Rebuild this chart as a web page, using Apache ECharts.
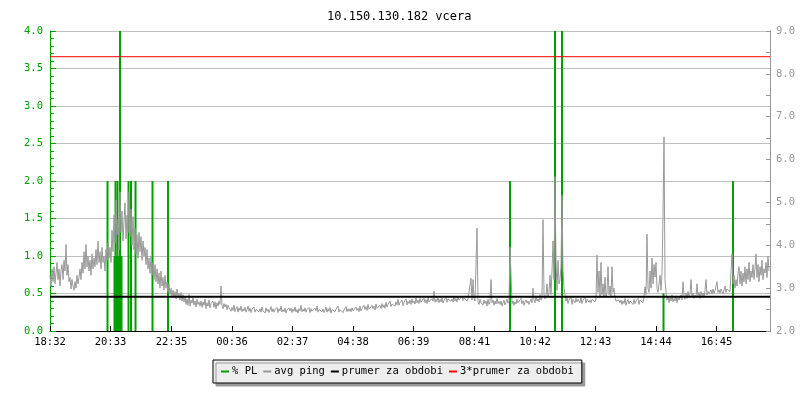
<!DOCTYPE html>
<html>
<head>
<meta charset="utf-8">
<script src="https://cdn.jsdelivr.net/npm/echarts@6/dist/echarts.min.js"></script>
<style>
  html, body { margin: 0; padding: 0; background: #fff; }
  #chart { width: 800px; height: 400px; }
</style>
</head>
<body>
<div id="chart"></div>
<script>
const chartTitle = '10.150.130.182 vcera';
const seriesNames = ['% PL', 'avg ping', 'prumer za obdobi', '3*prumer za obdobi'];

// time axis: minutes since the first label, 24 h wide
const startLabel = '18:32';
const spanMinutes = 1440;
const timeLabels = ['18:32', '20:33', '22:35', '00:36', '02:37', '04:38',
  '06:39', '08:41', '10:42', '12:43', '14:44', '16:45'];

// avg ping, one sample every 2 minutes (right axis), one row = 30 min
const pingStep = 2;
const pingValues = [
  3.30, 3.05, 3.45, 3.15, 3.50, 3.10, 3.35, 3.60, 3.20, 3.45, 3.05, 3.40, 3.55, 3.20, 3.65,
  3.40, 4.02, 3.30, 3.55, 3.15, 3.25, 2.98, 3.20, 3.05, 2.95, 3.15, 3.00, 3.30, 3.10, 3.25,
  3.45, 3.20, 3.60, 3.35, 3.85, 3.45, 4.02, 3.50, 3.75, 3.40, 3.65, 3.30, 3.80, 3.45, 3.70,
  3.50, 3.90, 3.55, 4.10, 3.60, 3.85, 3.45, 3.95, 3.60, 3.75, 3.40, 3.90, 3.65, 4.05, 3.70,
  3.95, 3.60, 4.35, 3.85, 4.70, 4.05, 5.06, 4.25, 4.60, 3.90, 5.25, 4.30, 4.80, 4.10, 4.55,
  4.99, 4.15, 4.70, 4.30, 5.25, 4.20, 4.85, 4.00, 4.67, 3.90, 4.40, 3.80, 4.25, 3.70, 4.30,
  3.85, 4.20, 3.65, 4.10, 3.75, 3.95, 3.55, 3.90, 3.45, 3.70, 3.35, 3.75, 3.30, 3.60, 3.20,
  3.55, 3.15, 3.45, 3.10, 3.35, 3.00, 3.40, 3.05, 3.25, 2.95, 3.30, 3.00, 3.15, 2.90, 3.10,
  2.85, 3.00, 2.80, 2.95, 2.78, 2.92, 2.75, 2.98, 2.80, 2.88, 2.72, 2.90, 2.70, 2.85, 2.68,
  2.80, 2.62, 2.75, 2.60, 2.85, 2.58, 2.72, 2.65, 2.78, 2.60, 2.70, 2.56, 2.74, 2.62, 2.68,
  2.58, 2.70, 2.55, 2.68, 2.60, 2.75, 2.52, 2.66, 2.58, 2.72, 2.54, 2.64, 2.60, 2.70, 2.55,
  2.68, 2.52, 2.66, 2.58, 2.70, 2.62, 3.05, 2.60, 2.52, 2.64, 2.56, 2.62, 2.50, 2.60, 2.54,
  2.58, 2.46, 2.55, 2.48, 2.60, 2.45, 2.52, 2.57, 2.44, 2.54, 2.48, 2.58, 2.45, 2.52, 2.47,
  2.55, 2.44, 2.50, 2.58, 2.46, 2.53, 2.43, 2.51, 2.47, 2.56, 2.44, 2.50, 2.48, 2.54, 2.45,
  2.52, 2.44, 2.56, 2.47, 2.50, 2.42, 2.54, 2.46, 2.51, 2.43, 2.49, 2.57, 2.45, 2.52, 2.44,
  2.50, 2.46, 2.55, 2.43, 2.52, 2.47, 2.58, 2.44, 2.50, 2.45, 2.53, 2.42, 2.49, 2.46, 2.54,
  2.47, 2.53, 2.43, 2.51, 2.46, 2.56, 2.44, 2.50, 2.42, 2.52, 2.47, 2.60, 2.45, 2.51, 2.46,
  2.54, 2.44, 2.50, 2.47, 2.55, 2.43, 2.52, 2.46, 2.49, 2.42, 2.53, 2.47, 2.58, 2.44, 2.50,
  2.46, 2.54, 2.45, 2.51, 2.43, 2.49, 2.56, 2.44, 2.52, 2.46, 2.55, 2.42, 2.50, 2.47, 2.53,
  2.45, 2.51, 2.47, 2.58, 2.44, 2.50, 2.46, 2.54, 2.43, 2.49, 2.48, 2.57, 2.45, 2.52, 2.46,
  2.52, 2.45, 2.54, 2.47, 2.50, 2.44, 2.56, 2.48, 2.53, 2.45, 2.58, 2.47, 2.52, 2.49, 2.60,
  2.50, 2.57, 2.48, 2.62, 2.51, 2.55, 2.47, 2.60, 2.52, 2.58, 2.49, 2.63, 2.53, 2.57, 2.50,
  2.60, 2.52, 2.64, 2.55, 2.61, 2.53, 2.67, 2.56, 2.62, 2.58, 2.70, 2.57, 2.63, 2.60, 2.66,
  2.58, 2.68, 2.61, 2.74, 2.60, 2.66, 2.62, 2.72, 2.59, 2.67, 2.63, 2.75, 2.61, 2.69, 2.64,
  2.72, 2.62, 2.75, 2.65, 2.70, 2.63, 2.78, 2.66, 2.72, 2.64, 2.76, 2.67, 2.71, 2.65, 2.77,
  2.66, 2.73, 2.64, 2.79, 2.68, 2.72, 2.65, 2.76, 2.70, 2.93, 2.67, 2.74, 2.69, 2.78, 2.66,
  2.74, 2.68, 2.77, 2.65, 2.72, 2.70, 2.79, 2.67, 2.75, 2.71, 2.78, 2.69, 2.74, 2.68, 2.80,
  2.70, 2.76, 2.68, 2.79, 2.72, 2.75, 2.69, 2.81, 2.71, 2.77, 2.73, 2.80, 2.70, 2.75, 2.72,
  2.78, 3.23, 2.72, 3.20, 2.76, 2.70, 2.74, 4.40, 2.68, 2.62, 2.74, 2.66, 2.70, 2.60, 2.72,
  2.64, 2.70, 2.58, 2.74, 2.62, 2.68, 3.20, 2.66, 2.72, 2.60, 2.70, 2.63, 2.76, 2.64, 2.69,
  2.62, 2.70, 2.58, 2.66, 2.72, 2.61, 2.68, 2.74, 2.65, 2.70, 3.96, 3.30, 2.64, 2.70, 2.60,
  2.68, 2.63, 2.74, 2.66, 2.70, 2.62, 2.76, 2.64, 2.71, 2.60, 2.68, 2.73, 2.65, 2.70, 2.62,
  2.68, 2.74, 2.66, 3.00, 2.72, 2.66, 2.80, 2.70, 2.75, 2.68, 2.85, 2.72, 2.78, 4.60, 2.85,
  2.75, 2.82, 3.10, 2.80, 2.90, 3.30, 2.85, 3.40, 4.10, 3.20, 5.60, 3.65, 2.95, 3.65, 3.10,
  3.20, 3.50, 5.17, 3.40, 3.00, 2.85, 2.70, 2.78, 2.64, 2.72, 2.68, 2.80, 2.62, 2.74, 2.70,
  2.66, 2.76, 2.68, 2.74, 2.70, 2.66, 2.78, 2.64, 2.72, 2.68, 2.80, 2.65, 2.74, 2.70, 2.67,
  2.72, 2.66, 2.74, 2.70, 2.78, 2.68, 2.75, 3.77, 2.90, 3.40, 2.80, 3.60, 2.85, 3.10, 2.78,
  3.26, 2.80, 2.90, 3.50, 2.85, 3.05, 2.80, 3.50, 2.90, 3.00, 2.78, 2.70, 2.74, 2.66, 2.72,
  2.66, 2.72, 2.62, 2.70, 2.64, 2.76, 2.60, 2.68, 2.74, 2.63, 2.70, 2.66, 2.72, 2.62, 2.74,
  2.64, 2.70, 2.66, 2.76, 2.62, 2.72, 2.68, 2.74, 2.66, 2.80, 3.03, 2.85, 4.26, 3.00, 2.90,
  3.40, 3.00, 3.70, 3.10, 3.55, 3.26, 3.60, 3.00, 2.90, 3.10, 3.30, 2.95, 3.35, 4.68, 6.53,
  3.20, 2.90, 2.72, 2.80, 2.66, 2.78, 2.70, 2.84, 2.68, 2.76, 2.70, 2.82, 2.66, 2.78, 2.72,
  2.76, 2.84, 2.72, 3.15, 2.82, 2.74, 2.88, 2.76, 2.92, 2.78, 2.86, 3.20, 2.80, 2.88, 2.76,
  2.84, 2.78, 3.10, 2.80, 2.90, 2.76, 2.92, 2.82, 2.88, 2.78, 2.94, 3.20, 2.84, 2.92, 2.86,
  2.90, 2.96, 2.86, 2.98, 2.88, 2.94, 2.92, 3.15, 2.90, 2.96, 2.88, 2.98, 2.92, 2.86, 2.96,
  3.05, 2.90, 2.98, 2.94, 3.00, 2.92, 2.96, 3.80, 3.10, 3.30, 3.00, 3.20, 3.05, 3.35, 3.50,
  3.10, 3.40, 3.05, 3.35, 3.15, 3.50, 3.10, 3.45, 3.20, 3.60, 3.15, 3.40, 3.25, 3.55, 3.20,
  3.45, 3.80, 3.25, 3.55, 3.15, 3.50, 3.30, 3.65, 3.20, 3.45, 3.35, 3.60, 3.25, 3.75, 3.40
];

// packet loss spikes (left axis)
const plMinutes = [115, 129, 131, 133, 135, 137, 140, 143, 157, 162, 171, 205, 236, 920, 1010, 1024, 1227, 1366];
const plValues  = [2.0, 1.0, 2.0, 1.0, 2.0, 1.0, 4.0, 1.0, 2.0, 2.0, 2.0, 2.0, 2.0, 2.0, 4.0, 4.0, 0.5, 2.0];

// period average of the ping (right axis)
const prumer = 2.8;

const green = '#00a000';
const grey = '#999999';
const font = 'DejaVu Sans Mono';

function toMinutes(label) {
  const p = label.split(':');
  const s = startLabel.split(':');
  return ((+p[0] * 60 + +p[1]) - (+s[0] * 60 + +s[1]) + 1440) % 1440;
}
const tickMinutes = timeLabels.map(toMinutes);

const option = {
  animation: false,
  backgroundColor: '#fff',
  textStyle: { fontFamily: font },
  title: {
    text: chartTitle,
    left: 322,
    top: 6,
    textStyle: { fontFamily: font, fontSize: 12, fontWeight: 'normal', color: '#000' }
  },
  legend: {
    data: seriesNames,
    left: 213,
    top: 360,
    padding: [6, 8, 6, 8],
    itemGap: 6,
    itemWidth: 8,
    itemHeight: 2,
    icon: 'rect',
    backgroundColor: '#eeeeee',
    borderColor: '#000',
    borderWidth: 1,
    borderRadius: 0,
    shadowColor: '#999',
    shadowBlur: 0,
    shadowOffsetX: 3,
    shadowOffsetY: 3,
    textStyle: { fontFamily: font, fontSize: 10.5, color: '#000', padding: [0, 0, 0, -2] }
  },
  grid: {
    left: 50,
    right: 30,
    top: 31,
    bottom: 69,
    outerBoundsMode: 'none'
  },
  xAxis: {
    type: 'value',
    min: 0,
    max: spanMinutes,
    axisLine: { lineStyle: { color: '#000', width: 1 } },
    axisTick: { show: true, inside: true, length: 5, customValues: tickMinutes, lineStyle: { color: '#000' } },
    axisLabel: {
      customValues: tickMinutes,
      margin: 6,
      color: '#000',
      fontFamily: font,
      fontSize: 10.5,
      formatter: function(v) {
        const i = tickMinutes.indexOf(v);
        return i >= 0 ? timeLabels[i] : '';
      }
    },
    splitLine: { show: false }
  },
  yAxis: [{
    type: 'value',
    position: 'left',
    min: 0,
    max: 4,
    interval: 0.5,
    axisLine: { show: true, lineStyle: { color: green } },
    axisTick: { show: true, inside: true, length: 6, lineStyle: { color: green } },
    minorTick: { show: true, splitNumber: 5, length: 4, lineStyle: { color: green } },
    axisLabel: {
      color: green,
      margin: 7,
      fontFamily: font,
      fontSize: 10.5,
      formatter: v => v.toFixed(1)
    },
    splitLine: { show: true, lineStyle: { color: '#c0c0c0', width: 1 } }
  }, {
    type: 'value',
    position: 'right',
    min: 2,
    max: 9,
    interval: 1,
    axisLine: { show: true, lineStyle: { color: grey } },
    axisTick: { show: true, inside: true, length: 4, lineStyle: { color: grey } },
    minorTick: { show: true, splitNumber: 2, length: 4, lineStyle: { color: grey } },
    axisLabel: {
      color: grey,
      margin: 6,
      fontFamily: font,
      fontSize: 10.5,
      formatter: v => v.toFixed(1)
    },
    splitLine: { show: false }
  }],
  series: [{
    name: seriesNames[0],
    type: 'bar',
    yAxisIndex: 0,
    barWidth: 2,
    z: 1,
    itemStyle: { color: green },
    data: plMinutes.map((m, i) => [m, plValues[i]])
  }, {
    name: seriesNames[1],
    type: 'line',
    yAxisIndex: 1,
    z: 2,
    showSymbol: false,
    symbol: 'none',
    color: grey,
    lineStyle: { color: grey, width: 1 },
    data: pingValues.map((v, i) => [i * pingStep, v])
  }, {
    name: seriesNames[2],
    type: 'line',
    yAxisIndex: 1,
    z: 3,
    symbol: 'none',
    color: '#000',
    lineStyle: { color: '#000', width: 2 },
    data: [[0, prumer], [spanMinutes, prumer]]
  }, {
    name: seriesNames[3],
    type: 'line',
    yAxisIndex: 1,
    z: 4,
    symbol: 'none',
    color: '#ff0000',
    lineStyle: { color: '#ff0000', width: 1 },
    data: [[0, prumer * 3], [spanMinutes, prumer * 3]]
  }]
};

const chart = echarts.init(document.getElementById('chart'), null, { renderer: 'canvas' });
chart.setOption(option);
</script>
</body>
</html>
